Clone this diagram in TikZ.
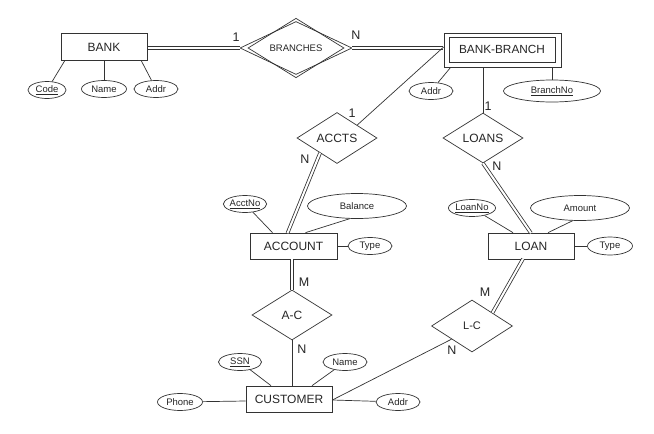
\documentclass[tikz,border=0pt]{standalone}
\usepackage{fontspec}
\setmainfont{Liberation Sans}
\usetikzlibrary{shapes.geometric,calc}
\begin{document}
\begin{tikzpicture}[x=1pt,y=-1pt,
  every node/.style={font=\fontsize{12}{14}\selectfont, text=black!85},
  ln/.style={draw=black!80, line width=0.7pt},
  dbl/.style={draw=black!80, line width=0.8pt, double=white, double distance=2pt},
  ent/.style={ln, rectangle, inner sep=0pt},
  attr/.style={ln, ellipse, inner sep=0pt, font=\fontsize{9.5}{11}\selectfont},
  rel/.style={ln, diamond, inner sep=0pt},
  card/.style={inner sep=0pt, font=\fontsize{12.5}{14}\selectfont}]
\useasboundingbox[fill=white] (0,0) rectangle (654,434);

% BANK
\node[ent, minimum width=86, minimum height=27] (bank) at (104,47) {BANK};
\node[attr, minimum width=38, minimum height=17] (code) at (47,90) {\underline{Code}};
\node[attr, minimum width=45, minimum height=17] (bname) at (104,89) {Name};
\node[attr, minimum width=44, minimum height=17] (baddr) at (156,89) {Addr};
\draw[ln] ([xshift=4]bank.south west) -- (code);
\draw[ln] (bank.south) -- (bname);
\draw[ln] ([xshift=-6]bank.south east) -- (baddr);

% BRANCHES (identifying relationship)
\node[rel, minimum width=112, minimum height=53] (branches) at (296,48) {};
\node[rel, minimum width=96, minimum height=45, font=\fontsize{9.5}{11}\selectfont] (branchesi) at (296,48) {BRANCHES};
\draw[dbl] ([xshift=0.5]bank.east |- branches.west) -- (branches.west);
\node[card] (c1) at (236,37) {1};

% BANK-BRANCH (weak entity)
\node[ent, minimum width=117, minimum height=34] (bb) at (502.5,50) {};
\node[ent, minimum width=106, minimum height=25, font=\fontsize{11.8}{14}\selectfont] (bbi) at (502,49.5) {BANK-BRANCH};
\draw[dbl] (branches.east) -- ([xshift=-0.5]branches.east -| bb.west);
\node[card] (c2) at (356,35) {N};
\node[attr, minimum width=44, minimum height=17] (bbaddr) at (431,91) {Addr};
\node[attr, minimum width=97, minimum height=22] (branchno) at (552,91) {\underline{BranchNo}};
\draw[ln] ([xshift=7]bb.south west) -- (bbaddr);
\draw[ln] (bb.south -| branchno.north) -- (branchno.north);

% ACCTS
\node[rel, minimum width=80, minimum height=51] (accts) at (337,138) {ACCTS};
\draw[ln] ([yshift=3]bb.west) -- (accts.north east);
\node[card] (c3) at (352,113) {1};

% ACCOUNT
\node[ent, minimum width=87, minimum height=26] (account) at (293.5,246) {ACCOUNT};
\draw[dbl] ($(accts.west)!0.58!(accts.south)$) -- ([xshift=-6,yshift=-0.5]account.north);
\node[card] (c4) at (305,159) {N};
\node[attr, minimum width=43, minimum height=17] (acctno) at (245,204) {\underline{AcctNo}};
\node[attr, minimum width=99, minimum height=25] (balance) at (357,206) {Balance};
\node[attr, minimum width=44, minimum height=17] (atype) at (370,246) {Type};
\draw[ln] ([xshift=-21]account.north) -- (acctno);
\draw[ln] ([xshift=12]account.north) -- (balance.240);
\draw[ln] (account.east) -- (atype);

% LOANS
\node[rel, minimum width=80, minimum height=50] (loans) at (483,138) {LOANS};
\draw[ln] (loans.north |- bb.south) -- (loans.north);
\node[card] (c5) at (488,106) {1};

% LOAN
\node[ent, minimum width=86, minimum height=26] (loan) at (531,246) {LOAN};
\draw[dbl] (loans.south) -- ([yshift=-0.5]loan.north);
\node[card] (c6) at (497,166) {N};
\node[attr, minimum width=45, minimum height=17] (loanno) at (472,208) {\underline{LoanNo}};
\node[attr, minimum width=99, minimum height=25] (amount) at (580,208) {Amount};
\node[attr, minimum width=45, minimum height=18] (ltype) at (610,246) {Type};
\draw[ln] ([xshift=-18]loan.north) -- (loanno);
\draw[ln] ([xshift=17]loan.north) -- (amount.240);
\draw[ln] (loan.east) -- (ltype);

% A-C
\node[rel, minimum width=80, minimum height=50] (ac) at (292,315) {A-C};
\draw[dbl] ([yshift=0.5]ac.north |- account.south) -- (ac.north);
\node[card] (c7) at (304,282) {M};

% CUSTOMER
\node[ent, minimum width=86, minimum height=26] (customer) at (289,399) {CUSTOMER};
\draw[ln] (ac.south) -- (ac.south |- customer.north);
\node[card] (c8) at (302,349) {N};
\node[attr, minimum width=43, minimum height=17] (ssn) at (240,362) {\underline{SSN}};
\node[attr, minimum width=44, minimum height=17] (cname) at (345,362) {Name};
\node[attr, minimum width=45, minimum height=17] (phone) at (180,402) {Phone};
\node[attr, minimum width=44, minimum height=17] (caddr) at (398,402) {Addr};
\draw[ln] ([xshift=-18]customer.north) -- (ssn);
\draw[ln] ([xshift=23]customer.north) -- (cname);
\draw[ln] ([yshift=-2]customer.west) -- (phone);
\draw[ln] ([yshift=-1]customer.east) -- (caddr);

% L-C
\node[rel, minimum width=81, minimum height=52, font=\fontsize{11}{13}\selectfont] (lc) at (472,326) {L-C};
\draw[ln] ([yshift=-1]customer.east) -- (lc.south west);
\node[card] (c9) at (452,350) {N};
\draw[dbl] (lc.north east) -- ([xshift=-8,yshift=0.5]loan.south);
\node[card] (c10) at (485,292) {M};
\end{tikzpicture}
\end{document}
